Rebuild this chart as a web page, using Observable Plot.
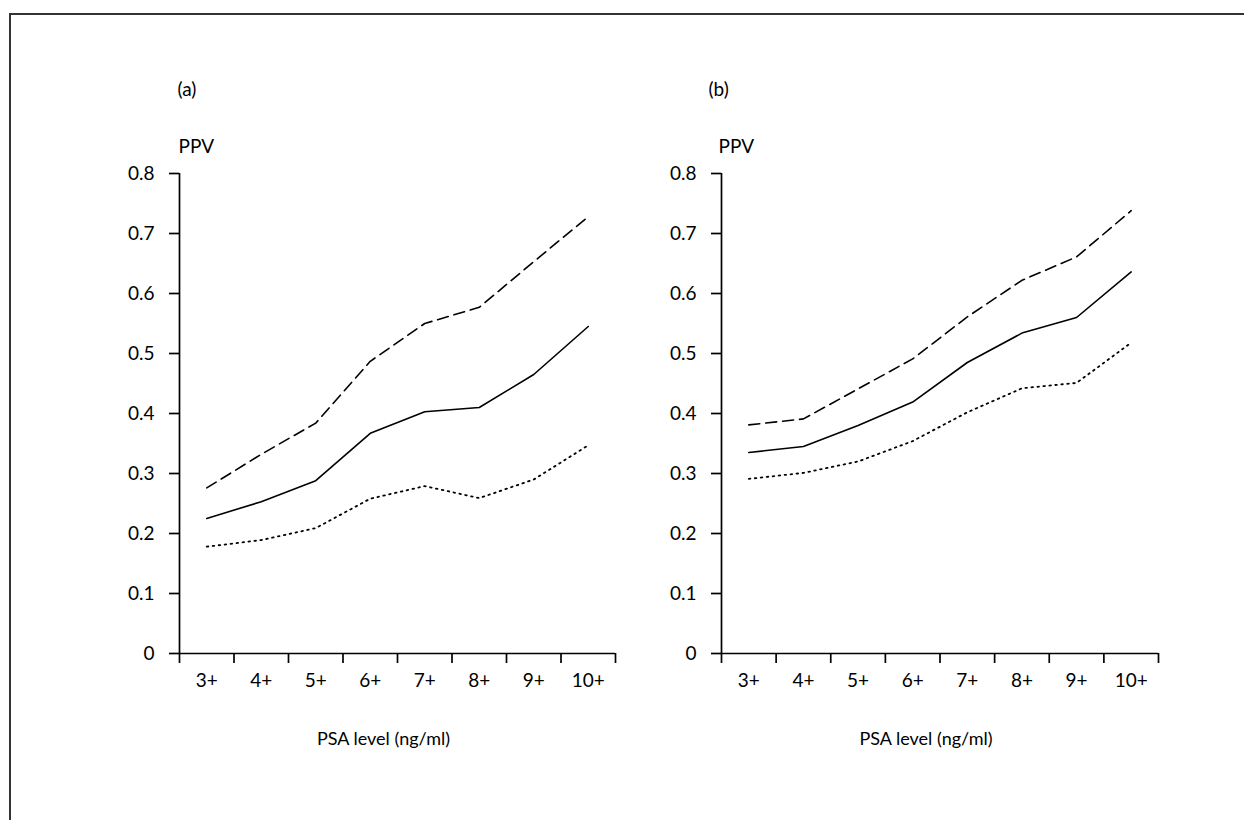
<!DOCTYPE html>
<html>
<head>
<meta charset="utf-8">
<script src="https://cdn.jsdelivr.net/npm/d3@7"></script>
<script src="https://cdn.jsdelivr.net/npm/@observablehq/plot@0.6"></script>
<style>
  html, body { margin: 0; padding: 0; background: #fff; }
  #page { position: relative; width: 1244px; height: 820px; overflow: hidden; background: #fff; }
  #frame { position: absolute; left: 9px; top: 13px; width: 1300px; height: 900px;
           border-top: 2px solid #333; border-left: 2px solid #333; }
  .panel { position: absolute; top: 0; }
  #pa { left: 0; }
  #pb { left: 635px; }
</style>
</head>
<body>
<div id="page">
  <div id="frame"></div>
  <div id="pa" class="panel"></div>
  <div id="pb" class="panel"></div>
</div>
<script>
// ---- data ----
const categories = ["3+", "4+", "5+", "6+", "7+", "8+", "9+", "10+"];
const yTicks = [0, 0.1, 0.2, 0.3, 0.4, 0.5, 0.6, 0.7, 0.8];
const panelLabels = ["(a)", "(b)"];
const yLabel = "PPV";
const xLabel = "PSA level (ng/ml)";

// panel (a)
const aUpper = [0.276, 0.332, 0.384, 0.487, 0.550, 0.577, 0.653, 0.728];
const aMid   = [0.225, 0.253, 0.288, 0.367, 0.403, 0.410, 0.465, 0.545];
const aLower = [0.178, 0.189, 0.209, 0.258, 0.279, 0.259, 0.290, 0.347];

// panel (b)
const bUpper = [0.381, 0.391, 0.441, 0.491, 0.561, 0.622, 0.661, 0.738];
const bMid   = [0.335, 0.345, 0.380, 0.419, 0.485, 0.534, 0.560, 0.636];
const bLower = [0.291, 0.301, 0.320, 0.354, 0.402, 0.442, 0.451, 0.518];

function rows(values) {
  return categories.map((c, i) => ({cat: c, pos: i + 0.5, v: values[i]}));
}

const FONT = "Lato, 'Open Sans', sans-serif";

function panel({upper, mid, lower, label, marginLeft, plotWidth, labelDx, ppvDx}) {
  const n = categories.length;
  const boundaries = d3.range(0, n + 1);
  const centers = d3.range(0, n).map(i => i + 0.5);
  const marginRight = 20;
  return Plot.plot({
    width: marginLeft + plotWidth + marginRight,
    height: 773,
    marginLeft,
    marginRight,
    marginTop: 173,
    marginBottom: 120,
    style: {fontFamily: FONT, fontSize: "19px", color: "#000", background: "transparent", overflow: "visible"},
    x: {domain: [0, n], axis: null},
    y: {domain: [0, 0.8], axis: null},
    marks: [
      Plot.axisY({ticks: yTicks, tickSize: 10, tickPadding: 15, strokeWidth: 1.7, label: null,
                  fontSize: 19, fill: "#000", tickFormat: d => String(+d.toFixed(1))}),
      Plot.axisX({ticks: boundaries, tickSize: 10, strokeWidth: 1.7, label: null, tickFormat: () => ""}),
      Plot.axisX({ticks: centers, tickSize: 0, tickPadding: 20, label: null, fontSize: 19, fill: "#000",
                  tickFormat: d => categories[Math.floor(d)]}),
      Plot.ruleX([0], {y1: 0, y2: 0.8, strokeWidth: 1.7}),
      Plot.ruleY([0], {x1: 0, x2: n, strokeWidth: 1.7}),
      Plot.line(rows(upper), {x: "pos", y: "v", stroke: "#000", strokeWidth: 1.6, strokeDasharray: "11,6"}),
      Plot.line(rows(mid), {x: "pos", y: "v", stroke: "#000", strokeWidth: 1.6}),
      Plot.line(rows(lower), {x: "pos", y: "v", stroke: "#000", strokeWidth: 1.8, strokeDasharray: "1.6,4.4"}),
      Plot.text([label], {frameAnchor: "top-left", textAnchor: "start", lineAnchor: "middle", dx: labelDx, dy: -84, fill: "#000", fontSize: 19}),
      Plot.text([yLabel], {frameAnchor: "top-left", textAnchor: "start", lineAnchor: "middle", dx: ppvDx, dy: -27, fill: "#000", fontSize: 19}),
      Plot.text([xLabel], {frameAnchor: "bottom", textAnchor: "middle", lineAnchor: "middle", dx: -14, dy: 86, fill: "#000", fontSize: 18})
    ]
  });
}

document.getElementById("pa").append(panel({
  upper: aUpper, mid: aMid, lower: aLower, label: panelLabels[0],
  marginLeft: 179, plotWidth: 436, labelDx: -2, ppvDx: -1
}));
document.getElementById("pb").append(panel({
  upper: bUpper, mid: bMid, lower: bLower, label: panelLabels[1],
  marginLeft: 86, plotWidth: 437, labelDx: -13, ppvDx: -3
}));
</script>
</body>
</html>
